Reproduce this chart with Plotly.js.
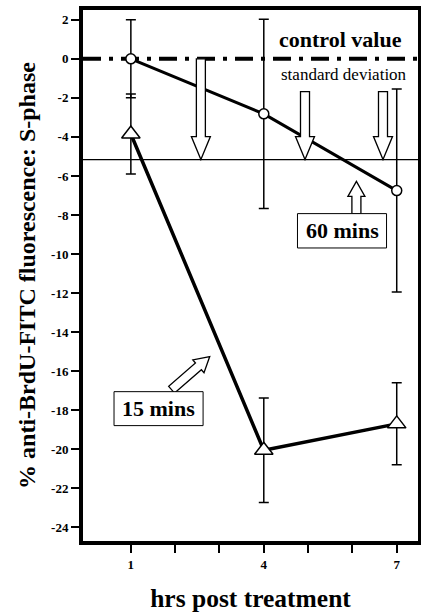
<!DOCTYPE html>
<html>
<head>
<meta charset="utf-8">
<script src="https://cdn.plot.ly/plotly-3.0.1.min.js"></script>
<style>html,body{margin:0;padding:0;background:#fff;}#chart{width:421px;height:613px;}</style>
</head>
<body>
<div id="chart"></div>
<script>
// ---- data ----
const hours = [1, 4, 7];
const min60Values = [0, -2.82, -6.75];
const min60Errors = [2.0, 4.85, 5.2];
const min15Values = [-3.85, -20.05, -18.7];
const min15Errors = [2.05, 2.68, 2.1];
const controlValue = 0;
const sdValue = -5.16;
const xTickVals = [1, 2, 3, 4, 5, 6, 7];
const xTickText = ["1", "", "", "4", "", "", "7"];
const yTickVals = [2, 0, -2, -4, -6, -8, -10, -12, -14, -16, -18, -20, -22, -24];
const yTickText = ["2", "0", "-2", "-4", "-6", "-8", "-10", "-12", "-14", "-16", "-18", "-20", "-22", "-24"];

// ---- layout geometry ----
const W = 421, H = 613;
const M = {l: 83, r: 3, t: 10, b: 72};
const X_RANGE = [-0.08, 7.48], Y_RANGE = [-24.7, 2.5];
const PW = W - M.l - M.r, PH = H - M.t - M.b;
const toPx = (x, y) => [(x - X_RANGE[0]) / (X_RANGE[1] - X_RANGE[0]) * PW, (Y_RANGE[1] - y) / (Y_RANGE[1] - Y_RANGE[0]) * PH];
const toData = (px, py) => [X_RANGE[0] + px / PW * (X_RANGE[1] - X_RANGE[0]), Y_RANGE[1] - py / PH * (Y_RANGE[1] - Y_RANGE[0])];

function blockArrow(tail, tip, sw, hw, hl) {
  const S = toPx(tail[0], tail[1]), T = toPx(tip[0], tip[1]);
  const dx = T[0] - S[0], dy = T[1] - S[1], len = Math.hypot(dx, dy);
  const d = [dx / len, dy / len], n = [-d[1], d[0]];
  const B = [T[0] - d[0] * hl, T[1] - d[1] * hl];
  const pts = [
    [S[0] + n[0] * sw / 2, S[1] + n[1] * sw / 2],
    [B[0] + n[0] * sw / 2, B[1] + n[1] * sw / 2],
    [B[0] + n[0] * hw / 2, B[1] + n[1] * hw / 2],
    T,
    [B[0] - n[0] * hw / 2, B[1] - n[1] * hw / 2],
    [B[0] - n[0] * sw / 2, B[1] - n[1] * sw / 2],
    [S[0] - n[0] * sw / 2, S[1] - n[1] * sw / 2]
  ].map(p => toData(p[0], p[1]));
  return {
    type: 'path', xref: 'x', yref: 'y',
    path: 'M' + pts.map(p => p[0].toFixed(4) + ',' + p[1].toFixed(4)).join(' L') + ' Z',
    fillcolor: 'white', line: {color: 'black', width: 1.3}, layer: 'above'
  };
}

const serif = 'Liberation Serif';

const traces = [
  {
    x: hours, y: min60Values, type: 'scatter', mode: 'lines+markers',
    line: {color: 'black', width: 3},
    marker: {symbol: 'circle', size: 10, color: 'white', line: {color: 'black', width: 1.5}},
    error_y: {type: 'data', array: min60Errors, visible: true, color: 'black', thickness: 1.5, width: 5},
    cliponaxis: false, showlegend: false
  },
  {
    x: hours, y: min15Values, type: 'scatter', mode: 'lines+markers',
    line: {color: 'black', width: 3.5},
    marker: {symbol: 'triangle-up', size: 16, color: 'white', line: {color: 'black', width: 1.5}},
    error_y: {type: 'data', array: min15Errors, visible: true, color: 'black', thickness: 1.5, width: 5},
    cliponaxis: false, showlegend: false
  }
];

const shapes = [
  {type: 'line', xref: 'paper', yref: 'y', x0: 0, x1: 1, y0: sdValue, y1: sdValue, line: {color: 'black', width: 1.3}, layer: 'below'},
  {type: 'line', xref: 'paper', yref: 'y', x0: 0, x1: 1, y0: controlValue, y1: controlValue, line: {color: 'black', width: 4, dash: '18px,8px,4px,8px'}, layer: 'below'},
  blockArrow([2.58, 0], [2.58, sdValue], 9, 19, 23),
  blockArrow([4.93, -1.68], [4.93, sdValue], 9, 19, 23),
  blockArrow([6.69, -1.68], [6.69, sdValue], 9, 19, 23),
  blockArrow([6.09, -7.93], [6.09, -6.28], 9, 17, 15),
  blockArrow([1.92, -16.95], [2.78, -15.25], 9, 17, 15),
  {type: 'rect', xref: 'x', yref: 'y', x0: 4.76, x1: 6.77, y0: -7.93, y1: -9.69, fillcolor: 'white', line: {color: 'black', width: 1}, layer: 'above'},
  {type: 'rect', xref: 'x', yref: 'y', x0: 0.62, x1: 2.63, y0: -17.05, y1: -18.79, fillcolor: 'white', line: {color: 'black', width: 1}, layer: 'above'}
];

const annotations = [
  {x: 5.72, y: 0.99, xref: 'x', yref: 'y', text: 'control value', showarrow: false, font: {family: serif, size: 22, color: 'black', weight: 'bold'}},
  {x: 5.81, y: -0.81, xref: 'x', yref: 'y', text: 'standard deviation', showarrow: false, font: {family: serif, size: 17, color: 'black'}},
  {x: 5.765, y: -8.81, xref: 'x', yref: 'y', text: '60 mins', showarrow: false, font: {family: serif, size: 22, color: 'black', weight: 'bold'}},
  {x: 1.625, y: -17.92, xref: 'x', yref: 'y', text: '15 mins', showarrow: false, font: {family: serif, size: 22, color: 'black', weight: 'bold'}}
];

const layout = {
  width: W, height: H,
  margin: M,
  paper_bgcolor: 'white', plot_bgcolor: 'white',
  showlegend: false,
  xaxis: {
    range: X_RANGE, tickvals: xTickVals, ticktext: xTickText,
    ticks: 'outside', ticklen: 8, tickwidth: 2, tickcolor: 'black',
    showline: true, linewidth: 4, linecolor: 'black', mirror: true,
    showgrid: false, zeroline: false,
    tickfont: {family: serif, size: 13, color: 'black', weight: 'bold'},
    title: {text: 'hrs post treatment', font: {family: serif, size: 25.5, color: 'black', weight: 'bold'}, standoff: 21}
  },
  yaxis: {
    range: Y_RANGE, tickvals: yTickVals, ticktext: yTickText,
    ticks: 'outside', ticklen: 8, tickwidth: 2, tickcolor: 'black',
    showline: true, linewidth: 4, linecolor: 'black', mirror: true,
    showgrid: false, zeroline: false,
    tickfont: {family: serif, size: 13, color: 'black', weight: 'bold'},
    title: {text: '% anti-BrdU-FITC fluorescence: S-phase', font: {family: serif, size: 24, color: 'black', weight: 'bold'}, standoff: 10}
  },
  shapes: shapes,
  annotations: annotations
};

Plotly.newPlot('chart', traces, layout, {displayModeBar: false, staticPlot: true});
</script>
</body>
</html>
